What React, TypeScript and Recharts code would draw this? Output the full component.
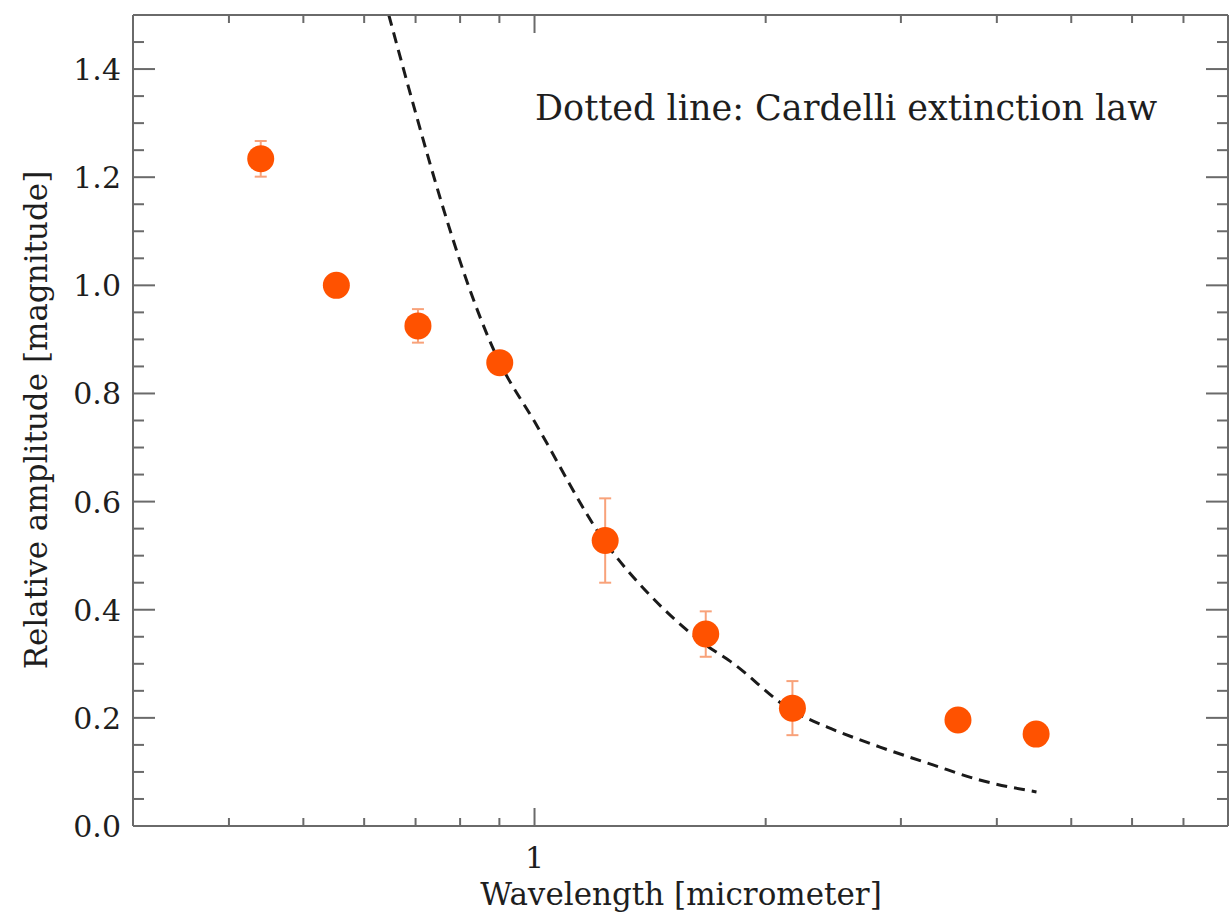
import {
  ComposedChart,
  Scatter,
  Line,
  XAxis,
  YAxis,
  ErrorBar,
  Customized,
} from 'recharts';

// photometric bands: wavelength (micrometer) and relative amplitude (mag)
const bandWavelength = [0.44, 0.552, 0.705, 0.901, 1.236, 1.671, 2.167, 3.56, 4.5];
const relAmplitude = [1.234, 1.0, 0.925, 0.857, 0.528, 0.355, 0.218, 0.196, 0.17];
const amplitudeErr = [0.033, 0.012, 0.031, 0.012, 0.078, 0.042, 0.05, 0.015, 0.01];

// Cardelli law
const cardelliWl = [0.646, 0.901, 1.0, 1.236, 1.418, 1.671, 1.801, 2.167, 2.406, 2.818, 3.303, 3.8, 4.505];
const cardelliAmp = [1.5, 0.857, 0.748, 0.525, 0.425, 0.335, 0.304, 0.213, 0.183, 0.146, 0.113, 0.085, 0.063];

const xTicks = [0.4, 0.5, 0.6, 0.7, 0.8, 0.9, 1, 2, 3, 4, 5, 6, 7];
const xLabelTicks = [1];
const yTicks = [0, 0.05, 0.1, 0.15, 0.2, 0.25, 0.3, 0.35, 0.4, 0.45, 0.5, 0.55, 0.6, 0.65, 0.7, 0.75, 0.8, 0.85, 0.9, 0.95, 1.0, 1.05, 1.1, 1.15, 1.2, 1.25, 1.3, 1.35, 1.4, 1.45];
const yLabelTicks = [0, 0.2, 0.4, 0.6, 0.8, 1.0, 1.2, 1.4];

const points = bandWavelength.map((wl, i) => ({ wl, amp: relAmplitude[i], err: amplitudeErr[i] }));
const curve = cardelliWl.map((wl, i) => ({ wl, amp: cardelliAmp[i] }));

const FONT = '"DejaVu Serif", "Liberation Serif", serif';
const AXIS = '#6a6a6a';
const TEXT = '#1e1e1e';

const isMajorY = (v: number) => yLabelTicks.some((t) => Math.abs(t - v) < 1e-6);
const isMajorX = (v: number) => xLabelTicks.includes(v);

const BottomTick = ({ x, y, payload }: any) => {
  const major = isMajorX(payload.value);
  return (
    <g>
      <line x1={x} y1={y} x2={x} y2={y - (major ? 18 : 8)} stroke={AXIS} strokeWidth={2} />
      {major && (
        <text x={x} y={y + 42} textAnchor="middle" fontFamily={FONT} fontSize={30} fill={TEXT}>
          {payload.value}
        </text>
      )}
    </g>
  );
};

const TopTick = ({ x, y, payload }: any) => {
  const major = isMajorX(payload.value);
  return <line x1={x} y1={y} x2={x} y2={y + (major ? 18 : 8)} stroke={AXIS} strokeWidth={2} />;
};

const LeftTick = ({ x, y, payload }: any) => {
  const major = isMajorY(payload.value);
  return (
    <g>
      <line x1={x} y1={y} x2={x + (major ? 22 : 11)} y2={y} stroke={AXIS} strokeWidth={2} />
      {major && (
        <text x={x - 12} y={y + 11} textAnchor="end" fontFamily={FONT} fontSize={30} fill={TEXT}>
          {payload.value.toFixed(1)}
        </text>
      )}
    </g>
  );
};

const RightTick = ({ x, y, payload }: any) => {
  const major = isMajorY(payload.value);
  return <line x1={x} y1={y} x2={x - (major ? 22 : 11)} y2={y} stroke={AXIS} strokeWidth={2} />;
};

const Dot = ({ cx, cy }: any) => <circle cx={cx} cy={cy} r={13.5} fill="#ff5200" />;

const Title = () => (
  <text x={535} y={120} fontFamily={FONT} fontSize={35} fill={TEXT}>
    Dotted line: Cardelli extinction law
  </text>
);

export default function App() {
  return (
    <div style={{ position: 'absolute', left: 0, top: 0, background: '#fff' }}>
      <ComposedChart width={1231} height={913} margin={{ top: 0, right: 0, bottom: 0, left: 0 }}>
        <XAxis
          type="number"
          dataKey="wl"
          scale="log"
          domain={[0.3, 8]}
          allowDataOverflow
          ticks={xTicks}
          interval={0}
          height={87}
          tickSize={0}
          tickMargin={0}
          tickLine={false}
          axisLine={{ stroke: AXIS, strokeWidth: 2 }}
          tick={BottomTick}
          label={{
            content: () => (
              <text x={681} y={905} textAnchor="middle" fontFamily={FONT} fontSize={31} fill={TEXT}>
                Wavelength [micrometer]
              </text>
            ),
          }}
        />
        <XAxis
          xAxisId="top"
          orientation="top"
          type="number"
          dataKey="wl"
          scale="log"
          domain={[0.3, 8]}
          allowDataOverflow
          ticks={xTicks}
          interval={0}
          height={15}
          tickSize={0}
          tickMargin={0}
          tickLine={false}
          axisLine={{ stroke: AXIS, strokeWidth: 2 }}
          tick={TopTick}
        />
        <YAxis
          type="number"
          domain={[0, 1.5]}
          allowDataOverflow
          ticks={yTicks}
          interval={0}
          width={133}
          tickSize={0}
          tickMargin={0}
          tickLine={false}
          axisLine={{ stroke: AXIS, strokeWidth: 2 }}
          tick={LeftTick}
          label={{
            content: () => (
              <text
                x={47}
                y={420}
                transform="rotate(-90 47 420)"
                textAnchor="middle"
                fontFamily={FONT}
                fontSize={31}
                fill={TEXT}
              >
                Relative amplitude [magnitude]
              </text>
            ),
          }}
        />
        <YAxis
          yAxisId="right"
          orientation="right"
          type="number"
          domain={[0, 1.5]}
          allowDataOverflow
          ticks={yTicks}
          interval={0}
          width={3}
          tickSize={0}
          tickMargin={0}
          tickLine={false}
          axisLine={{ stroke: AXIS, strokeWidth: 2 }}
          tick={RightTick}
        />
        <Line
          data={curve}
          dataKey="amp"
          type="monotone"
          stroke="#1a1a1a"
          strokeWidth={3}
          strokeDasharray="11 7"
          dot={false}
          activeDot={false}
          isAnimationActive={false}
        />
        <Scatter data={points} dataKey="amp" shape={Dot} isAnimationActive={false}>
          <ErrorBar dataKey="err" direction="y" width={6} stroke="#f8a27a" strokeWidth={2} />
        </Scatter>
        <Customized component={Title} />
      </ComposedChart>
    </div>
  );
}
